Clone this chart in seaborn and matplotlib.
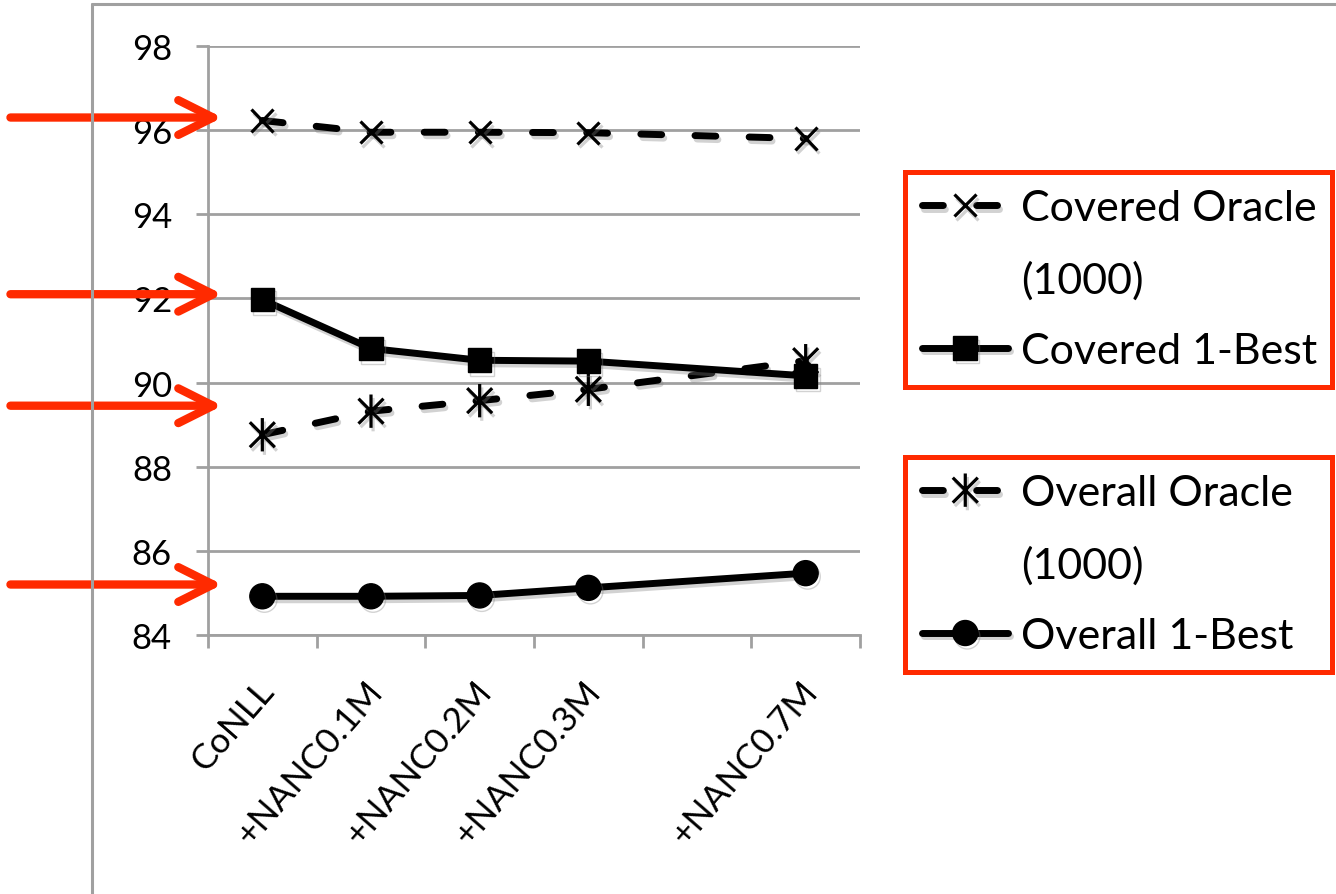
import numpy as np
import pandas as pd
import seaborn as sns
import matplotlib.pyplot as plt
from matplotlib.lines import Line2D
from matplotlib.path import Path
import matplotlib.patheffects as pe
from matplotlib.transforms import ScaledTranslation

# Datos (la 5a categoria esta vacia en el original)
categories = ['CoNLL', '+NANC0.1M', '+NANC0.2M', '+NANC0.3M', '', '+NANC0.7M']
covered_oracle = [96.23, 95.95, 95.95, 95.94, np.nan, 95.80]
covered_1best = [91.97, 90.81, 90.53, 90.51, np.nan, 90.16]
overall_oracle = [88.76, 89.32, 89.57, 89.84, np.nan, 90.52]
overall_1best = [84.92, 84.92, 84.94, 85.12, np.nan, 85.47]
y_ticks = [84, 86, 88, 90, 92, 94, 96, 98]
arrow_levels = [96.3, 92.1, 89.45, 85.2]

series = {
    'Covered Oracle': covered_oracle,
    'Covered 1-Best': covered_1best,
    'Overall Oracle': overall_oracle,
    'Overall 1-Best': overall_1best,
}

rows = []
for name, vals in series.items():
    for i, (cat, v) in enumerate(zip(categories, vals)):
        rows.append({'serie': name, 'pos': i, 'categoria': cat, 'valor': v})
df = pd.DataFrame(rows).dropna()

sns.set_theme(style='white')
plt.rcParams['font.family'] = ['Lato', 'DejaVu Sans']
plt.rcParams['text.color'] = 'black'
plt.rcParams['xtick.labelcolor'] = 'black'
plt.rcParams['ytick.labelcolor'] = 'black'

GRAY = '#a0a0a0'
RED = '#ff2a00'

# marcador asterisco (linea vertical + X)
asterisk = Path([(0, -1), (0, 1), (-0.75, -0.75), (0.75, 0.75), (-0.75, 0.75), (0.75, -0.75)],
                [Path.MOVETO, Path.LINETO, Path.MOVETO, Path.LINETO, Path.MOVETO, Path.LINETO])

dash = (0, (3.0, 4.8))
estilos = {
    'Covered Oracle': dict(marker='x', ms=16, mew=2.3, linestyle=dash, zorder=3),
    'Covered 1-Best': dict(marker='s', ms=17, mew=1, linestyle='-', zorder=5),
    'Overall Oracle': dict(marker=asterisk, ms=24, mew=2.3, linestyle=dash, zorder=4),
    'Overall 1-Best': dict(marker='o', ms=18, mew=1, linestyle='-', zorder=3),
}

fig = plt.figure(figsize=(13.36, 8.95), dpi=100)
ax = fig.add_axes([208 / 1336, 1 - 636 / 895, 652 / 1336, 589 / 895])

sombra = [pe.SimpleLineShadow(offset=(1.5, -2.5), shadow_color='#808080', alpha=0.35), pe.Normal()]

handles = {}
for name in series:
    st = estilos[name]
    sub = df[df['serie'] == name]
    sns.lineplot(data=sub, x='pos', y='valor', ax=ax, color='black', lw=5,
                 marker=st['marker'], markersize=st['ms'], mew=st['mew'],
                 mec='black', mfc='black', linestyle=st['linestyle'],
                 dash_capstyle='round', solid_capstyle='round', solid_joinstyle='round',
                 zorder=st['zorder'], legend=False, label=name)
    line = ax.get_lines()[-1]
    line.set_path_effects(sombra)
    handles[name] = line

# ejes
ax.set_xlim(-0.5, len(categories) - 0.5)
ax.set_ylim(84, 98)
ax.set_yticks(y_ticks)
ax.set_xticks(np.arange(len(categories) + 1) - 0.5)
ax.set_xticklabels([])
ax.set_xticks(np.arange(len(categories)), minor=True)
ax.set_xticklabels(categories, minor=True)
ax.set_xlabel('')
ax.set_ylabel('')

ax.grid(axis='y', color=GRAY, lw=2)
ax.set_axisbelow(True)
for s in ['top', 'right']:
    ax.spines[s].set_visible(False)
for s in ['left', 'bottom']:
    ax.spines[s].set_color(GRAY)
    ax.spines[s].set_linewidth(2)

ax.tick_params(axis='y', which='major', direction='out', length=9, width=2, color=GRAY,
               pad=17, labelsize=25, left=True)
ax.tick_params(axis='x', which='major', direction='out', length=9, width=2, color=GRAY, bottom=True)
ax.tick_params(axis='x', which='minor', length=0, pad=36, labelsize=25.5, labelrotation=49)
desplaza = ScaledTranslation(6 / 100, 0, fig.dpi_scale_trans)
for lbl in ax.get_xticklabels(minor=True):
    lbl.set_ha('right')
    lbl.set_va('center')
    lbl.set_rotation_mode('anchor')
    lbl.set_transform(lbl.get_transform() + desplaza)

# flechas rojas
for lvl in arrow_levels:
    ax.annotate('', xy=(0.022, lvl), xytext=(-0.303, lvl),
                xycoords=ax.get_yaxis_transform(), textcoords=ax.get_yaxis_transform(),
                annotation_clip=False,
                arrowprops=dict(arrowstyle='->,head_length=2.5,head_width=1.25', mutation_scale=10,
                                color=RED, lw=6, shrinkA=0, shrinkB=0,
                                capstyle='round', joinstyle='round'))

# leyendas en dos cajas rojas (mismo ancho)
blank = Line2D([], [], linestyle='none', marker='none')

def caja(h1, l1, h2, l2, top):
    leg = fig.legend([h1, blank, h2], [l1, '(1000)', l2], loc='upper left',
                     bbox_to_anchor=(905 / 1336, top - 0.2, 427 / 1336, 0.2),
                     bbox_transform=fig.transFigure, mode='expand',
                     borderaxespad=0, fontsize=31, handlelength=2.0, handletextpad=0.3,
                     borderpad=0.4, labelspacing=0.76, fancybox=False, framealpha=1,
                     edgecolor=RED)
    leg.get_frame().set_linewidth(3.6)
    return leg

caja(handles['Covered Oracle'], 'Covered Oracle', handles['Covered 1-Best'], 'Covered 1-Best',
     1 - 173 / 895)
caja(handles['Overall Oracle'], 'Overall Oracle', handles['Overall 1-Best'], 'Overall 1-Best',
     1 - 458 / 895)

# marco gris del area del grafico
fx, fy = 92 / 1336, 1 - 5 / 895
fig.add_artist(Line2D([fx, 1], [fy, fy], transform=fig.transFigure, color=GRAY, lw=2.2))
fig.add_artist(Line2D([fx, fx], [0, fy], transform=fig.transFigure, color=GRAY, lw=2.2))

fig.savefig('out.png', dpi=100, facecolor='white')
